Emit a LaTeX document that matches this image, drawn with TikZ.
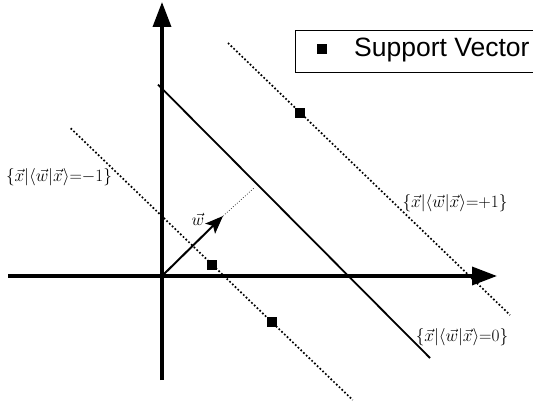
\documentclass[tikz,border=0pt]{standalone}
\usepackage{fontspec}
\newfontfamily\legendfont{Liberation Sans}
\usetikzlibrary{arrows.meta}

\begin{document}
\begin{tikzpicture}[x=1pt, y=-1pt,
  axis/.style={line width=3.5pt, -{Triangle[length=25pt, width=18pt]}},
  margin/.style={line width=1.7pt, dash pattern=on 1.7pt off 2.1pt},
  sv/.style={fill=black, minimum size=9.5pt, inner sep=0pt},
  every node/.style={font=\fontsize{17}{17}\selectfont, inner sep=1pt}]
  \useasboundingbox (0,0) rectangle (533,406);
  % hyperplanes
  \draw[line width=1.8pt] (158,84.6) coordinate (h0a) -- (430,358) coordinate (h0b);
  \draw[margin] (228,43) coordinate (hpa) -- (510,315) coordinate (hpb);
  \draw[margin] (70.7,128.3) coordinate (hma) -- (352.7,400) coordinate (hmb);
  % axes
  \coordinate (O) at (162,276);
  \draw[axis] (8,276) coordinate (xl) -- (497,276) coordinate (xr);
  \draw[axis] (162,380) coordinate (yb) -- (162,2) coordinate (yt);
  % normal vector
  \coordinate (wtip) at (223,216);
  \coordinate (foot) at (255,187);
  \draw[line width=2pt, -{Stealth[length=18pt, width=14pt, inset=4pt]}] (O) -- (wtip);
  \draw[line width=0.7pt, dotted] (wtip) -- (foot);
  \node (wl) at (198,219) {$\vec{w}$};
  % support vectors
  \node[sv] (s1) at (300,113) {};
  \node[sv] (s2) at (212,265) {};
  \node[sv] (s3) at (272,322) {};
  % labels
  \node (lm) at (59,177)  {$\{\vec{x}|\langle\vec{w}|\vec{x}\rangle{=}{-}1\}$};
  \node (lp) at (455,203) {$\{\vec{x}|\langle\vec{w}|\vec{x}\rangle{=}{+}1\}$};
  \node (l0) at (462,337) {$\{\vec{x}|\langle\vec{w}|\vec{x}\rangle{=}0\}$};
  % legend
  \draw[line width=0.8pt] (295.5,30) rectangle (560,72);
  \node[sv] (ls) at (322,49) {};
  \node[font=\legendfont\fontsize{26.5}{26.5}\selectfont, anchor=west] (lt) at (353,50) {Support Vector};
\end{tikzpicture}
\end{document}
